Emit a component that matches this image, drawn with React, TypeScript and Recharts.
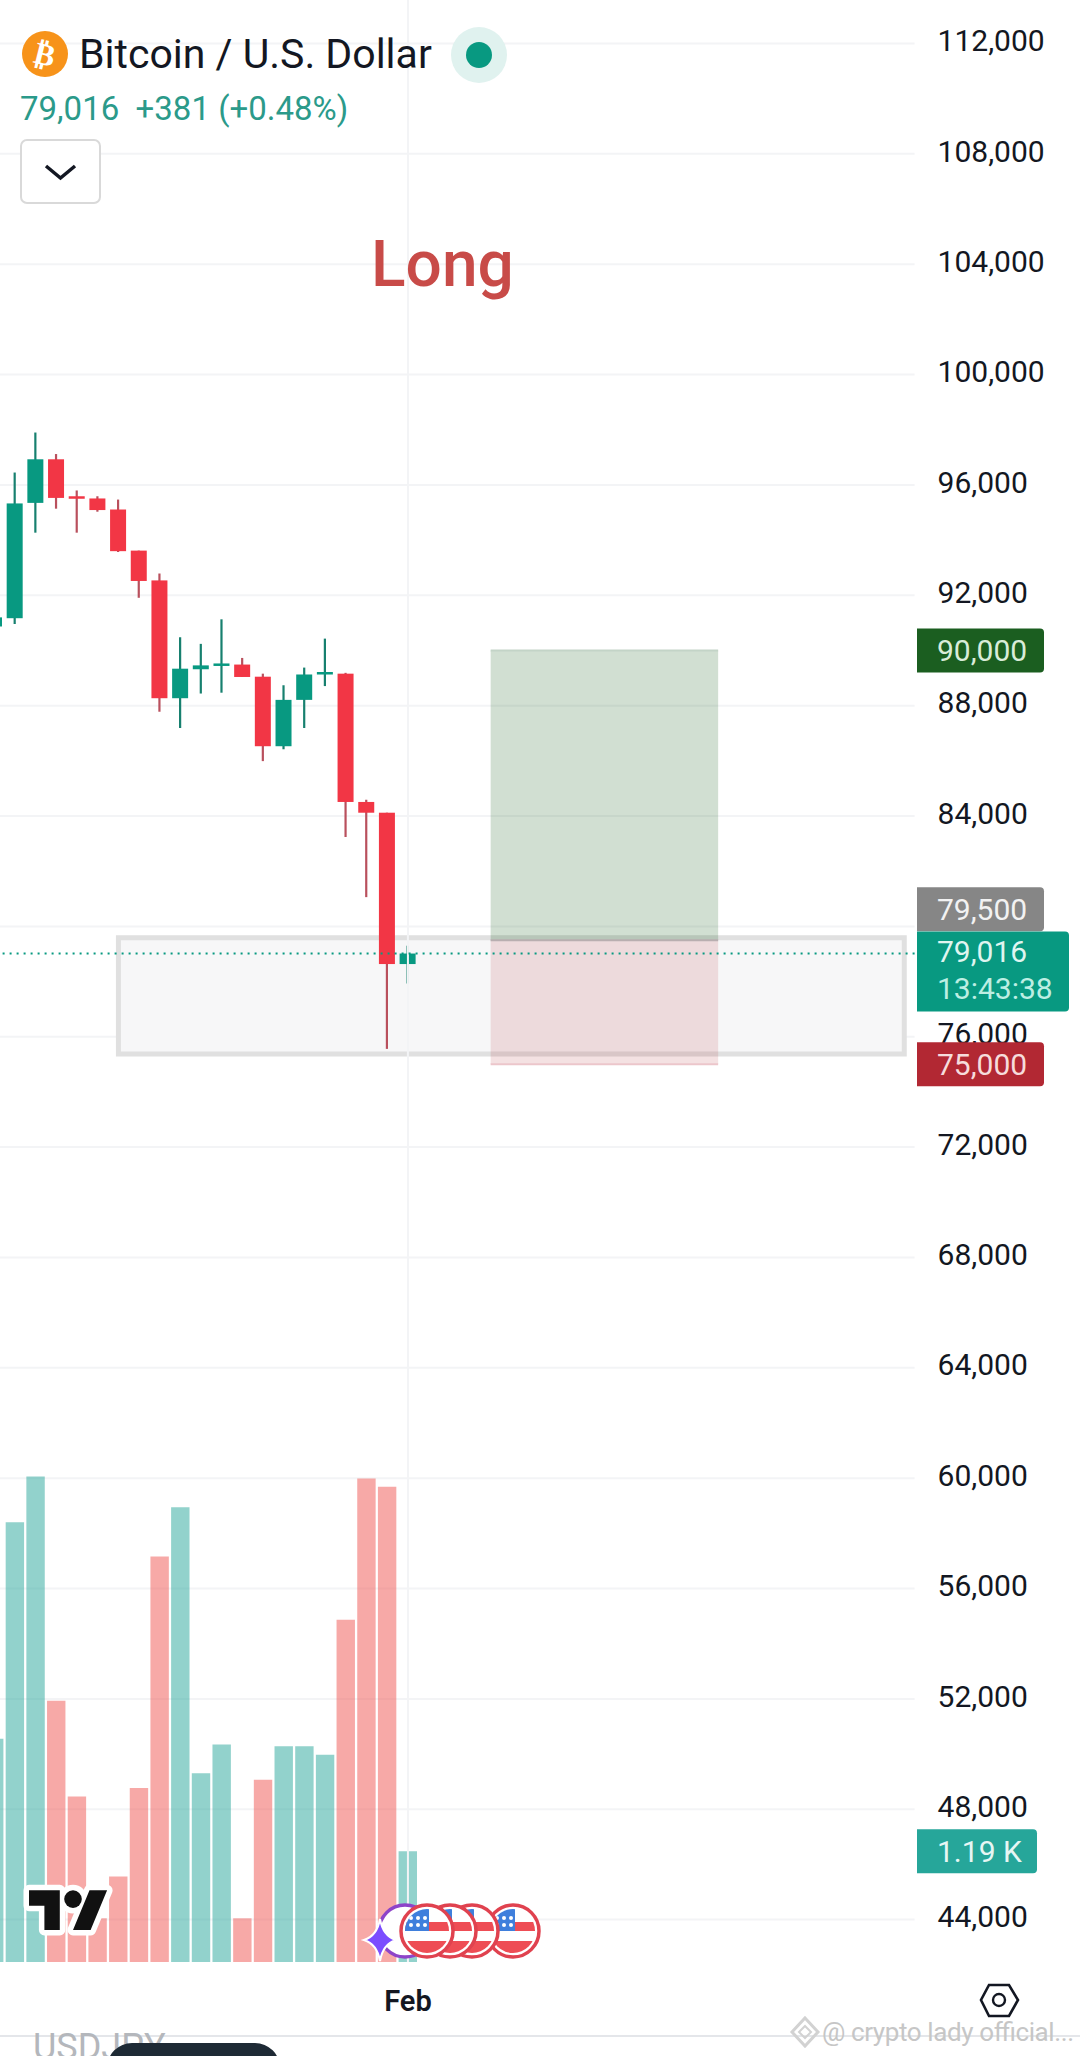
import { useId } from 'react'
import {
  ComposedChart, Bar, Cell, XAxis, YAxis, CartesianGrid, ReferenceArea, ReferenceLine, ReferenceDot, Rectangle,
} from 'recharts'

const categories = [
  'Jan 12', 'Jan 13', 'Jan 14', 'Jan 15', 'Jan 16', 'Jan 17', 'Jan 18', 'Jan 19', 'Jan 20', 'Jan 21', 'Jan 22',
  'Jan 23', 'Jan 24', 'Jan 25', 'Jan 26', 'Jan 27', 'Jan 28', 'Jan 29', 'Jan 30', 'Jan 31', 'Feb',
  'Feb 2', 'Feb 3', 'Feb 4', 'Feb 5', 'Feb 6', 'Feb 7', 'Feb 8', 'Feb 9', 'Feb 10', 'Feb 11', 'Feb 12',
  'Feb 13', 'Feb 14', 'Feb 15', 'Feb 16', 'Feb 17', 'Feb 18', 'Feb 19', 'Feb 20', 'Feb 21', 'Feb 22',
  'Feb 23', 'Feb 24', 'Feb 25',
]
const opens = [90870, 91170, 95350, 96930, 95590, 95510, 95110, 93620, 92540, 88270, 89320, 89470, 89490, 89050, 86530, 88210, 89160, 89160, 84510, 84120, 78635]
const closes = [91200, 95330, 96930, 95530, 95540, 95090, 93600, 92520, 88270, 89340, 89460, 89530, 89040, 86530, 88210, 89130, 89220, 84510, 84120, 78635, 79016]
const highs = [91500, 96450, 97900, 97120, 95800, 95590, 95470, 93620, 92790, 90480, 90240, 91130, 89730, 89160, 88740, 89380, 90430, 89190, 84590, 84120, 79300]
const lows = [90500, 90960, 94270, 95140, 94270, 95030, 93570, 91910, 87780, 87190, 88440, 88470, 89040, 85990, 86420, 87190, 88710, 83240, 81060, 75560, 77930]
const volumes = [2.4, 4.73, 5.22, 2.81, 1.78, 0.47, 0.92, 1.87, 4.36, 4.89, 2.03, 2.34, 0.47, 1.96, 2.32, 2.32, 2.23, 3.68, 5.2, 5.11, 1.19]
const priceTicks = [112000, 108000, 104000, 100000, 96000, 92000, 88000, 84000, 80000, 76000, 72000, 68000, 64000, 60000, 56000, 52000, 48000, 44000]

const rows = categories.map((name, i) => ({
  name,
  bar: i,
  open: opens[i],
  close: closes[i],
  range: highs[i] === undefined ? undefined : [lows[i], highs[i]],
  volume: volumes[i],
}))

const FONT = 'Roboto, sans-serif'
const UP = '#089981'
const DOWN = '#f23645'
const GRID = '#f3f4f6'

function Candle(props: any) {
  const { x, y, width, height, payload } = props
  if (!payload || payload.range === undefined) return null
  const [low, high] = payload.range
  const at = (v: number) => y + ((high - v) / (high - low)) * height
  const up = payload.close >= payload.open
  const top = at(Math.max(payload.open, payload.close))
  const bottom = at(Math.min(payload.open, payload.close))
  const mid = x + width / 2
  return (
    <g>
      <line x1={mid} x2={mid} y1={y} y2={y + height} stroke={up ? '#17806f' : '#b9505d'} strokeWidth={2.2} />
      <rect x={x} y={top} width={width} height={Math.max(bottom - top, 2.5)} fill={up ? UP : DOWN} />
    </g>
  )
}

// tag on the price scale, cy comes from the axis
function priceTag(text: string, fill: string, color: string, w = 127, shift = 0) {
  return (props: any) => (
    <g>
      <Rectangle x={917} y={props.cy - 22 + shift} width={w} height={44} fill={fill} radius={[0, 4, 4, 0]} />
      <text x={937} y={props.cy + 11 + shift} fontSize={30} fontFamily={FONT} fill={color}>{text}</text>
    </g>
  )
}

function lastPriceTag(props: any) {
  return (
    <g>
      <Rectangle x={917} y={props.cy - 22} width={152} height={80} fill={UP} radius={[0, 4, 4, 0]} />
      <text x={937} y={props.cy + 8} fontSize={30} fontFamily={FONT} fill="#dff5f0">79,016</text>
      <text x={937} y={props.cy + 45} fontSize={30} fontFamily={FONT} fill="#bdeee3">13:43:38</text>
    </g>
  )
}

function Flag({ cx, cy }: { cx: number; cy: number }) {
  const id = useId()
  const dots = [[-16, -13], [-9, -13], [-2, -13], [-16, -6], [-9, -6], [-2, -6]]
  return (
    <g>
      <clipPath id={id}><circle cx={cx} cy={cy} r={22} /></clipPath>
      <circle cx={cx} cy={cy} r={26} fill="#fff" stroke="#e0424f" strokeWidth={3.5} />
      <g clipPath={`url(#${id})`}>
        <circle cx={cx} cy={cy} r={22} fill="#fff" />
        <rect x={cx - 24} y={cy - 9} width={48} height={9} fill="#ee4d55" />
        <rect x={cx - 24} y={cy + 10} width={48} height={14} fill="#ee4d55" />
        <rect x={cx - 24} y={cy - 24} width={26} height={24} fill="#3f7fdc" />
        {dots.map(([dx, dy]) => <circle key={`${dx}${dy}`} cx={cx + dx} cy={cy + dy} r={2} fill="#fff" />)}
      </g>
    </g>
  )
}

function Overlay() {
  return (
    <svg width={1080} height={2056} style={{ position: 'absolute', left: 0, top: 0, pointerEvents: 'none' }}>
      {/* header */}
      <circle cx={45} cy={54} r={23} fill="#f7931a" />
      <text x={45} y={65} textAnchor="middle" fontSize={31} fontWeight={700} fontFamily="DejaVu Sans" fill="#fff" transform="rotate(14 45 54)">₿</text>
      <text x={79} y={68} fontSize={41} fontFamily={FONT} fill="#131722">Bitcoin / U.S. Dollar</text>
      <circle cx={479} cy={55} r={28} fill="#e0f2ef" />
      <circle cx={479} cy={55} r={13} fill={UP} />
      <text x={20} y={120} fontSize={33} fontFamily={FONT} fill="#2b9a8a" xmlSpace="preserve">79,016  +381 (+0.48%)</text>
      <rect x={21} y={140} width={79} height={63} rx={6} fill="#fff" stroke="#d9d9d9" strokeWidth={2} />
      <path d="M46 166 L60.5 178 L75 166" fill="none" stroke="#131722" strokeWidth={3.5} />
      <text x={371} y={286} fontSize={64} fontWeight={500} fontFamily={FONT} fill="#c84b48">Long</text>

      {/* TradingView mark */}
      <g transform="translate(29 1881.5) scale(2.2)">
        <g fill="#fff" stroke="#fff" strokeWidth={5} strokeLinejoin="round">
          <path d="M14 22H7V11H0V4h14v18zM28 22h-8l7.5-18h8L28 22z" />
          <circle cx={20} cy={8} r={4} />
        </g>
        <path d="M14 22H7V11H0V4h14v18zM28 22h-8l7.5-18h8L28 22z" fill="#111" />
        <circle cx={20} cy={8} r={4} fill="#111" />
      </g>

      {/* events */}
      <circle cx={405} cy={1931} r={26} fill="#fff" stroke="#8e44c9" strokeWidth={3.5} />
      <Flag cx={513} cy={1931} />
      <Flag cx={472} cy={1931} />
      <Flag cx={450} cy={1931} />
      <Flag cx={427} cy={1931} />
      <path d="M380 1919 Q383 1936 396 1940 Q383 1944 380 1961 Q377 1944 364 1940 Q377 1936 380 1919 Z" fill="#7b4dff" stroke="#fff" strokeWidth={2} />

      {/* settings hexagon */}
      <path d="M989 1985 H1009 L1018 2000 L1009 2016 H989 L981 2000 Z" fill="none" stroke="#131722" strokeWidth={2.6} />
      <circle cx={999} cy={2000} r={6} fill="none" stroke="#131722" strokeWidth={2.4} />

      {/* bottom edge */}
      <line x1={0} x2={1080} y1={2036} y2={2036} stroke="#e4e6ea" strokeWidth={2} />
      <text x={33} y={2059} fontSize={36} fontFamily={FONT} fill="#b4b7bc">USDJPY</text>
      <path d="M107 2056 V2068 A25 25 0 0 1 132 2043 H255 A25 25 0 0 1 280 2068 V2056 Z" fill="#1e2a35" />

      {/* watermark */}
      <path d="M805 2018 L818 2032 L805 2046 L792 2032 Z" fill="none" stroke="#d2d2d2" strokeWidth={3} />
      <path d="M805 2026 L811 2032 L805 2038 L799 2032 Z" fill="none" stroke="#d2d2d2" strokeWidth={2} />
      <text x={822} y={2041} fontSize={26} fontFamily={FONT} fill="#c6c6c6" textLength={252}>@ crypto lady official...</text>
    </svg>
  )
}

export default function App() {
  return (
    <div style={{ position: 'absolute', left: 0, top: 0, width: 1080, height: 2056, overflow: 'hidden', background: '#fff' }}>
      <ComposedChart width={1080} height={2056} data={rows} margin={{ top: 0, right: 0, bottom: 0, left: -16 }}>
        <CartesianGrid vertical={false} stroke={GRID} strokeWidth={2} xAxisId="vol" yAxisId="price" syncWithTicks horizontalValues={priceTicks} />
        <XAxis
          xAxisId="vol" dataKey="name" height={94} interval={0} ticks={['Feb']}
          axisLine={false} tickLine={false} tickMargin={-38}
          tick={{ fontSize: 29, fontWeight: 600, fontFamily: FONT, fill: '#131722' }}
        />
        <XAxis xAxisId="candle" dataKey="name" hide />
        {/* drawings sit on bar centres, this axis counts bars */}
        <XAxis xAxisId="draw" dataKey="bar" type="number" domain={[-0.5, 44.5]} allowDataOverflow hide />
        <YAxis
          yAxisId="price" orientation="right" width={165.4} domain={[42464, 113577]} ticks={priceTicks} interval={0}
          axisLine={false} tickLine={false} tickMargin={17} allowDataOverflow
          tickFormatter={(v: number) => (v === 80000 ? '' : v.toLocaleString('en-US'))}
          tick={{ fontSize: 30, fontFamily: FONT, fill: '#131722', dy: -3 }}
        />
        <YAxis yAxisId="vol" domain={[0, 21.1]} allowDataOverflow hide />

        <ReferenceLine xAxisId="draw" yAxisId="price" x={20} stroke={GRID} strokeWidth={2} />

        <Bar xAxisId="vol" yAxisId="vol" dataKey="volume" barSize={18.4} isAnimationActive={false}>
          {volumes.map((_, i) => (
            <Cell key={i} fill={closes[i] >= opens[i] ? 'rgba(38,166,154,0.5)' : 'rgba(239,83,80,0.5)'} />
          ))}
        </Bar>

        <ReferenceArea xAxisId="draw" yAxisId="price" x1={6} x2={44} y1={79590} y2={75375} fill="#f7f7f8" fillOpacity={1} stroke="#e0e0e0" strokeWidth={5} />
        <Bar xAxisId="candle" yAxisId="price" dataKey="range" barSize={16} shape={Candle} isAnimationActive={false} />
        <ReferenceLine xAxisId="draw" yAxisId="price" y={79016} stroke={UP} strokeWidth={2} strokeDasharray="2 5" />
        <ReferenceArea xAxisId="draw" yAxisId="price" x1={24} x2={35} y1={90000} y2={79500} fill="#1b5e20" fillOpacity={0.2} />
        <ReferenceArea xAxisId="draw" yAxisId="price" x1={24} x2={35} y1={79500} y2={75000} fill="#b22833" fillOpacity={0.14} />
        <ReferenceLine xAxisId="draw" yAxisId="price" segment={[{ x: 24, y: 90000 }, { x: 35, y: 90000 }]} stroke="#c3d4c7" strokeWidth={2} />
        <ReferenceLine xAxisId="draw" yAxisId="price" segment={[{ x: 24, y: 79500 }, { x: 35, y: 79500 }]} stroke="#b8aeb0" strokeWidth={2} />
        <ReferenceLine xAxisId="draw" yAxisId="price" segment={[{ x: 24, y: 75000 }, { x: 35, y: 75000 }]} stroke="#ecc6cb" strokeWidth={2} />

        <ReferenceDot xAxisId="draw" yAxisId="price" x={44} y={90000} ifOverflow="visible" shape={priceTag('90,000', '#1b5e20', '#d9ecd9')} zIndex={2000} />
        <ReferenceDot xAxisId="draw" yAxisId="price" x={44} y={79500} ifOverflow="visible" shape={priceTag('79,500', '#868686', '#f2f2f2', 127, -31)} zIndex={2000} />
        <ReferenceDot xAxisId="draw" yAxisId="price" x={44} y={75000} ifOverflow="visible" shape={priceTag('75,000', '#b22833', '#f6dcdc')} zIndex={2000} />
        <ReferenceDot xAxisId="draw" yAxisId="price" x={44} y={79016} ifOverflow="visible" shape={lastPriceTag} zIndex={2001} />
        <ReferenceDot xAxisId="draw" yAxisId="vol" x={44} y={1.19} ifOverflow="visible" shape={priceTag('1.19 K', '#26a69a', '#e6f6f4', 120)} zIndex={2000} />
      </ComposedChart>
      <Overlay />
    </div>
  )
}
